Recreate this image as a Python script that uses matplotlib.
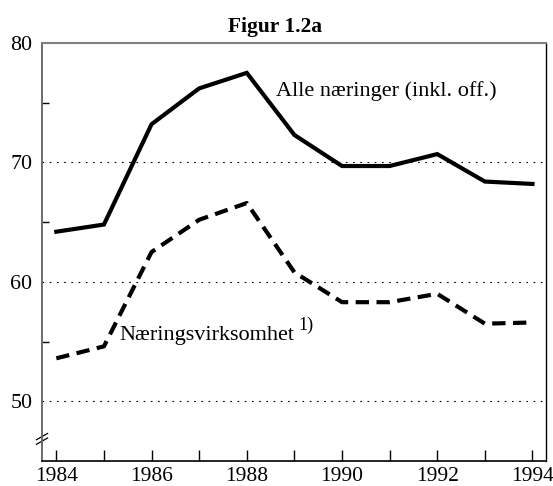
import matplotlib
matplotlib.use('Agg')
import matplotlib.pyplot as plt

years = [1984, 1985, 1986, 1987, 1988, 1989, 1990, 1991, 1992, 1993, 1994]
alle = [64.2, 64.8, 73.2, 76.2, 77.5, 72.3, 69.7, 69.7, 70.7, 68.4, 68.2]
naering = [53.6, 54.6, 62.5, 65.2, 66.6, 60.8, 58.3, 58.3, 59.0, 56.5, 56.6]

plt.rcParams['font.family'] = ['Liberation Serif', 'DejaVu Serif']

fig = plt.figure(figsize=(5.53, 4.86), dpi=100)
ax = fig.add_axes([0.076, 0.0514, 0.911, 0.8601])

# Linjer
ax.plot(years, alle, color='black', lw=3.0, solid_joinstyle='miter')
ax.plot(years, naering, color='black', lw=3.0, dashes=(3.2, 1.8))

ax.set_xlim(1983.7, 1994.28)
ax.set_ylim(45, 80)

# Akser og rutenett
ax.set_xticks(years)
ax.set_xticklabels([str(y) if y % 2 == 0 else '' for y in years], fontsize=15.5)
ax.set_yticks([50, 60, 70, 80])
ax.set_yticklabels(['50', '60', '70', '80'], fontsize=15.8)
ax.set_yticks([55, 65, 75], minor=True)
ax.tick_params(axis='x', direction='in', length=8, width=1, pad=4)
ax.tick_params(axis='y', which='major', length=0, pad=7)
ax.tick_params(axis='y', which='minor', direction='in', length=5, width=1)
for v in [50, 60, 70]:
    ax.axhline(v, color='black', lw=0.8, ls=(0, (1.5, 5)))

ax.spines['left'].set_color('#606060')
ax.spines['left'].set_linewidth(1.3)
ax.spines['bottom'].set_linewidth(1.2)
ax.spines['top'].set_color('#808080')
ax.spines['top'].set_linewidth(1.5)
ax.spines['right'].set_linewidth(1.0)

# Brudd på y-aksen
for dy in [0.0, 0.011]:
    ax.plot([-0.011, 0.011], [0.04 + dy, 0.055 + dy], color='black', lw=0.9,
            transform=ax.transAxes, clip_on=False)

# Tekster
ax.text(1988.62, 76.0, 'Alle næringer (inkl. off.)', fontsize=16, ha='left', va='center')
ax.text(1985.33, 55.5, 'Næringsvirksomhet', fontsize=16, ha='left', va='center')
ax.text(1989.09, 56.4, '1)', fontsize=13, ha='left', va='center')
fig.text(275 / 553, 1 - 27 / 486, 'Figur 1.2a', fontsize=15.5, fontweight='bold',
         ha='center', va='center')

fig.savefig('out.png', dpi=100)
